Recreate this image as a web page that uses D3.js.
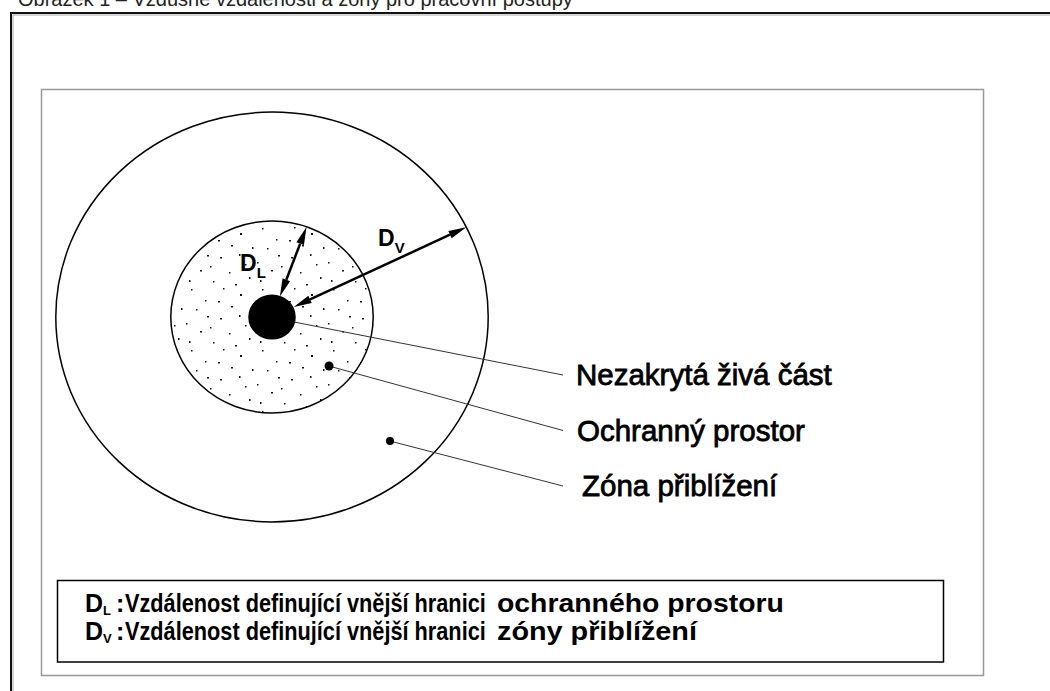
<!DOCTYPE html>
<html>
<head>
<meta charset="utf-8">
<script src="https://cdn.jsdelivr.net/npm/d3@7"></script>
<style>
  body { margin: 0; background: #fff; }
  svg { display: block; }
</style>
</head>
<body>
<div id="chart"></div>
<script>
// Figure caption (only the lower half is visible in the original scan)
const caption = "Obrázek 1 – Vzdušné vzdálenosti a zóny pro pracovní postupy";

// Zones, radius in diagram units (1 unit = radius of the live part)
const zoneNames = ["Zóna přiblížení", "Ochranný prostor", "Nezakrytá živá část"];
const zoneRadii = [9.4, 4.4, 1.0];

// Distance arrows: direction (degrees) and the radii they span
const arrowSymbols = ["L", "V"];
const arrowAngles = [70, 26];
const arrowFrom = [1.0, 1.05];
const arrowTo = [4.4, 9.4];

// Callout labels on the right and the points they refer to (diagram units)
const calloutNames = ["Nezakrytá živá část", "Ochranný prostor", "Zóna přiblížení"];
const calloutPointsX = [0.96, 2.48, 5.13];
const calloutPointsY = [-0.23, -2.25, -5.69];

// Key box rows
const keySymbols = ["L", "V"];
const keyText = ["Vzdálenost definující vnější hranici", "Vzdálenost definující vnější hranici"];
const keyTail = ["ochranného prostoru", "zóny přiblížení"];

const W = 1050, H = 691;
const svg = d3.select("#chart").append("svg")
    .attr("width", W)
    .attr("height", H);

const sans = "'Liberation Sans', Arial, sans-serif";
const narrow = "'Liberation Sans Narrow', 'Arial Narrow', 'Liberation Sans', Arial, sans-serif";

// 1. Caption, cut by the top of the page
svg.append("text")
    .attr("x", 18)
    .attr("y", 6)
    .style("font-family", sans)
    .style("font-size", "20px")
    .attr("fill", "#222")
    .text(caption);

// 2. Frames
svg.append("path")
    .attr("d", `M13,${H} V15 H${W}`)
    .attr("fill", "none")
    .attr("stroke", "#aaa")
    .attr("stroke-width", 1);
svg.append("path")
    .attr("d", `M11,${H} V13 H${W}`)
    .attr("fill", "none")
    .attr("stroke", "#111")
    .attr("stroke-width", 2);

svg.append("rect")
    .attr("x", 41.5).attr("y", 89.5)
    .attr("width", 942).attr("height", 586)
    .attr("fill", "none")
    .attr("stroke", "#999")
    .attr("stroke-width", 1.5);

// 3. Diagram scales (centre of the live part at the origin, y up)
const cx = 272, cy = 317;
const x = d3.scaleLinear().domain([0, 1]).range([cx, cx + 23]);
const y = d3.scaleLinear().domain([0, 1]).range([cy, cy - 21.8]);
const rx = r => x(r) - x(0);
const ry = r => y(0) - y(r);

// stipple texture for the protective space
const defs = svg.append("defs");
const stipple = defs.append("pattern")
    .attr("id", "stipple")
    .attr("patternUnits", "userSpaceOnUse")
    .attr("x", 3).attr("y", 7)
    .attr("width", 71)
    .attr("height", 61);
stipple.append("rect").attr("width", 71).attr("height", 61).attr("fill", "#fff");
[[4, 6], [23, 3], [41, 11], [62, 4], [13, 21], [33, 26], [55, 19], [68, 30],
 [7, 37], [24, 43], [46, 38], [60, 49], [15, 55], [36, 57], [51, 58], [2, 50],
 [29, 13], [44, 29], [19, 33], [65, 15]]
    .forEach(([px, py], k) => stipple.append("rect")
        .attr("x", px).attr("y", py)
        .attr("width", k % 3 === 0 ? 2 : 1.5)
        .attr("height", k % 4 === 1 ? 2 : 1.5)
        .attr("fill", "#111"));

const zoneFill = ["#fff", "url(#stipple)", "#000"];
svg.append("g")
    .selectAll("ellipse")
    .data(zoneRadii)
    .join("ellipse")
    .attr("cx", x(0))
    .attr("cy", y(0))
    .attr("rx", d => rx(d))
    .attr("ry", d => ry(d))
    .attr("fill", (d, i) => zoneFill[i])
    .attr("stroke", "#000")
    .attr("stroke-width", 1.5)
    .append("title").text((d, i) => zoneNames[i]);

// 4. Leader lines and callouts
const labelY = d3.scalePoint().domain(calloutNames).range([385, 496]);
const labelIndent = [0, 1, 6];
const leaderEndX = 563;

svg.append("g")
    .selectAll("line")
    .data(calloutNames)
    .join("line")
    .attr("x1", (d, i) => x(calloutPointsX[i]))
    .attr("y1", (d, i) => y(calloutPointsY[i]))
    .attr("x2", leaderEndX)
    .attr("y2", d => labelY(d) - 10)
    .attr("stroke", "#333")
    .attr("stroke-width", 1);

// marker dots (the live part is already the black blob)
svg.append("g")
    .selectAll("circle")
    .data(calloutNames.slice(1))
    .join("circle")
    .attr("cx", (d, i) => x(calloutPointsX[i + 1]))
    .attr("cy", (d, i) => y(calloutPointsY[i + 1]))
    .attr("r", (d, i) => i === 0 ? 4.5 : 4)
    .attr("fill", "#000");

svg.append("g")
    .selectAll("text")
    .data(calloutNames)
    .join("text")
    .attr("x", (d, i) => 576 + labelIndent[i])
    .attr("y", d => labelY(d))
    .style("font-family", sans)
    .style("font-size", "29.5px")
    .attr("fill", "#000")
    .attr("stroke", "#000")
    .attr("stroke-width", 0.8)
    .text(d => d);

// 5. Double-headed distance arrows
const headLen = 18, headWid = 8;
arrowSymbols.forEach((sym, i) => {
    const a = arrowAngles[i] * Math.PI / 180;
    const p0 = [x(arrowFrom[i] * Math.cos(a)), y(arrowFrom[i] * Math.sin(a))];
    const p1 = [x(arrowTo[i] * Math.cos(a)), y(arrowTo[i] * Math.sin(a))];
    const len = Math.hypot(p1[0] - p0[0], p1[1] - p0[1]);
    const ux = (p1[0] - p0[0]) / len, uy = (p1[1] - p0[1]) / len;
    const nx = -uy, ny = ux;
    const b0 = [p0[0] + ux * headLen, p0[1] + uy * headLen];
    const b1 = [p1[0] - ux * headLen, p1[1] - uy * headLen];

    const g = svg.append("g").attr("class", "arrow");
    g.append("line")
        .attr("x1", b0[0]).attr("y1", b0[1])
        .attr("x2", b1[0]).attr("y2", b1[1])
        .attr("stroke", "#000")
        .attr("stroke-width", 2.5);
    [[p0, b0], [p1, b1]].forEach(([tip, base]) => {
        g.append("path")
            .attr("d", `M${tip[0]},${tip[1]}
                L${base[0] + nx * headWid / 2},${base[1] + ny * headWid / 2}
                L${base[0] - nx * headWid / 2},${base[1] - ny * headWid / 2}Z`)
            .attr("fill", "#000");
    });
});

// arrow labels D_L and D_V
const arrowLabelX = [-1.39, 4.61];
const arrowLabelY = [2.11, 3.26];
arrowSymbols.forEach((sym, i) => {
    const t = svg.append("text")
        .attr("x", x(arrowLabelX[i]))
        .attr("y", y(arrowLabelY[i]))
        .style("font-family", sans)
        .style("font-size", "23px")
        .style("font-weight", "bold")
        .attr("fill", "#000");
    t.append("tspan").text("D");
    t.append("tspan")
        .attr("dy", 7)
        .style("font-size", "15px")
        .text(sym);
});

// 6. Key box
svg.append("rect")
    .attr("x", 57.5).attr("y", 580.5)
    .attr("width", 886).attr("height", 81.5)
    .attr("fill", "#fff")
    .attr("stroke", "#000")
    .attr("stroke-width", 1.5);

// squeeze/stretch a text horizontally so it fills the given width
function fitText(g, str, x0, y0, width) {
    const holder = g.append("g");
    const t = holder.append("text")
        .attr("x", 0).attr("y", 0)
        .style("font-size", "25px")
        .text(str);
    const natural = t.node().getComputedTextLength();
    holder.attr("transform", `translate(${x0},${y0}) scale(${width / natural},1)`);
}

const keyY = d3.scalePoint().domain(keySymbols).range([612, 640]);
keySymbols.forEach((sym, i) => {
    const yy = keyY(sym);
    const g = svg.append("g")
        .style("font-family", narrow)
        .style("font-weight", "bold")
        .attr("fill", "#000");
    const t = g.append("text").attr("x", 85).attr("y", yy).style("font-size", "25px");
    t.append("tspan").text("D");
    t.append("tspan").attr("dy", 3).style("font-size", "13px").text(sym);
    g.append("text").attr("x", 116).attr("y", yy).style("font-size", "25px").text(":");
    fitText(g, keyText[i], 125, yy, 361);
    fitText(g, keyTail[i], 497, yy, i === 0 ? 287 : 200);
});
</script>
</body>
</html>
